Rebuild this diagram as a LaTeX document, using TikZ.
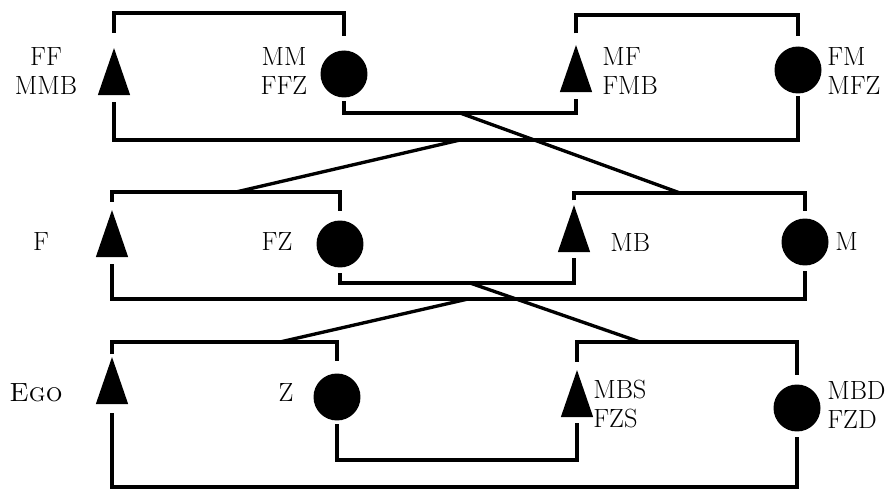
\documentclass[tikz,border=0pt]{standalone}
\usetikzlibrary{shapes.geometric}
\tikzset{
  male/.style={isosceles triangle, isosceles triangle apex angle=38, shape border rotate=90,
    fill=black, inner sep=0pt, minimum height=0.94cm, anchor=apex},
  female/.style={circle, fill=black, inner sep=0pt, minimum size=0.94cm},
  kin/.style={font=\fontsize{15}{16.5}\selectfont, inner sep=0pt},
  tie/.style={line width=1.9pt},
}
\begin{document}
\begin{tikzpicture}[x=0.02cm, y=-0.02cm]
  \useasboundingbox (0,0) rectangle (893,489);

  \node[male] (ff) at (114,47){};
  \node[female] (mm) at (344,74){};
  \node[male] (mf) at (576,44){};
  \node[female] (fm) at (798,70){};
  \node[kin, align=center] (ffl) at (46,71){FF\\MMB};
  \node[kin, align=center] (mml) at (284,71){MM\\FFZ};
  \node[kin, align=left, anchor=west] (mfl) at (602,71){MF\\FMB};
  \node[kin, align=left, anchor=west] (fml) at (827,71){FM\\MFZ};

  \node[male] (f) at (112,209){};
  \node[female] (fz) at (340,244){};
  \node[male] (mb) at (574,204){};
  \node[female] (m) at (805,242){};
  \node[kin] (fl) at (41,242){F};
  \node[kin] (fzl) at (277,242){FZ};
  \node[kin, anchor=west] (mbl) at (610,243){MB};
  \node[kin, anchor=west] (ml) at (835,242){M};

  \node[male] (ego) at (112,356){};
  \node[female] (z) at (337,397){};
  \node[male] (mbs) at (577,369){};
  \node[female] (mbd) at (797,408){};
  \node[kin] (egol) at (36,393){\textsc{Ego}};
  \node[kin] (zl) at (286,393){Z};
  \node[kin, align=left, anchor=west] (mbsl) at (593,404){MBS\\FZS};
  \node[kin, align=left, anchor=west] (mbdl) at (827,405){MBD\\FZD};

  \coordinate (fftop) at (228,13);
  \coordinate (mftop) at (686,15);
  \coordinate (mmmarr) at (460,113);
  \coordinate (ffmarr) at (460,140);
  \coordinate (fsib) at (236,192);
  \coordinate (mbsib) at (680,193);
  \coordinate (fzmarr) at (470,283);
  \coordinate (fmarr) at (468,299);
  \coordinate (egosib) at (280,342);
  \coordinate (mbssib) at (640,342);
  \coordinate (zmarr) at (456,460);
  \coordinate (egomarr) at (456,487);

  \draw[tie] ([yshift=8pt]ff.north) |- (fftop) -| ([yshift=8pt]mm.north);
  \draw[tie] ([yshift=6pt]mf.north) |- (mftop) -| ([yshift=6pt]fm.north);
  \draw[tie] ([yshift=-2pt]mm.south) |- (mmmarr) -| ([yshift=-4pt]mf.south);
  \draw[tie] ([yshift=-4pt]ff.south) |- (ffmarr) -| ([yshift=-1pt]fm.south);
  \draw[tie] (ffmarr) -- (fsib);
  \draw[tie] (mmmarr) -- (mbsib);

  \draw[tie] ([yshift=4pt]f.north) |- (fsib) -| ([yshift=5pt]fz.north);
  \draw[tie] ([yshift=2pt]mb.north) |- (mbsib) -| ([yshift=4pt]m.north);
  \draw[tie] ([yshift=-3pt]fz.south) |- (fzmarr) -| ([yshift=-3pt]mb.south);
  \draw[tie] ([yshift=-4pt]f.south) |- (fmarr) -| ([yshift=-3pt]m.south);
  \draw[tie] (fmarr) -- (egosib);
  \draw[tie] (fzmarr) -- (mbssib);

  \draw[tie] ([yshift=1pt]ego.north) |- (egosib) -| ([yshift=7pt]z.north);
  \draw[tie] ([yshift=4pt]mbs.north) |- (mbssib) -| ([yshift=5pt]mbd.north);
  \draw[tie] ([yshift=-2pt]z.south) |- (zmarr) -| ([yshift=-3pt]mbs.south);
  \draw[tie] ([yshift=-5pt]ego.south) |- (egomarr) -| ([yshift=-3pt]mbd.south);
\end{tikzpicture}
\end{document}
